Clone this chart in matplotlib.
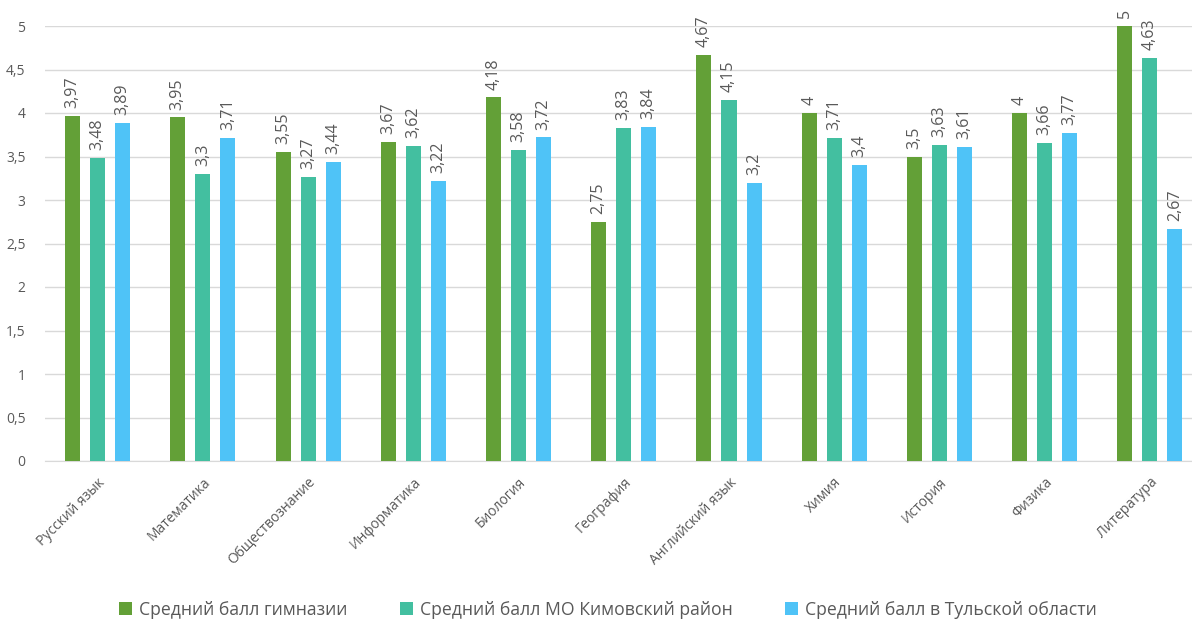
import numpy as np
import matplotlib
matplotlib.use('Agg')
import matplotlib.pyplot as plt

plt.rcParams['font.family'] = ['Open Sans', 'DejaVu Sans']

subjects = ['Русский язык', 'Математика', 'Обществознание', 'Информатика', 'Биология',
            'География', 'Английский язык', 'Химия', 'История', 'Физика', 'Литература']
gymnasium = [3.97, 3.95, 3.55, 3.67, 4.18, 2.75, 4.67, 4.00, 3.50, 4.00, 5.00]
kimovsk = [3.48, 3.30, 3.27, 3.62, 3.58, 3.83, 4.15, 3.71, 3.63, 3.66, 4.63]
tula = [3.89, 3.71, 3.44, 3.22, 3.72, 3.84, 3.20, 3.40, 3.61, 3.77, 2.67]
series_names = ['Средний балл гимназии', 'Средний балл МО Кимовский район',
                'Средний балл в Тульской области']
colors = ['#63a037', '#43bfa0', '#4fc3f7']

def fmt(v):
    s = ('%.2f' % v).rstrip('0').rstrip('.')
    return s.replace('.', ',')

fig = plt.figure(figsize=(11.92, 6.21), dpi=100)
ax = fig.add_axes([45 / 1192, 1 - 461 / 621, 1 - 45 / 1192, (461 - 26) / 621])

x = np.arange(len(subjects))
offsets = [-0.238, 0, 0.238]
width = 0.143
for vals, off, col, name in zip([gymnasium, kimovsk, tula], offsets, colors, series_names):
    bars = ax.bar(x + off, vals, width, color=col, label=name, zorder=3)
    for b, v in zip(bars, vals):
        ax.text(b.get_x() + b.get_width() / 2, v + 0.09, fmt(v), rotation=90,
                ha='center', va='bottom', fontsize=11.5, color='#595959')

ax.set_ylim(0, 5)
ax.set_xlim(-0.5, 10.4)
yt = np.arange(0, 5.01, 0.5)
ax.set_yticks(yt)
ax.set_yticklabels([fmt(v) for v in yt], fontsize=10, color='#595959')
ax.set_xticks(x)
ax.set_xticklabels(subjects, rotation=45, ha='right', rotation_mode='anchor',
                   fontsize=10, color='#595959')
ax.tick_params(axis='both', length=0)
ax.tick_params(axis='y', pad=14)
ax.tick_params(axis='x', pad=10)
ax.grid(axis='y', color='#d9d9d9', linewidth=1, zorder=0)
for s in ['top', 'right', 'left']:
    ax.spines[s].set_visible(False)
ax.spines['bottom'].set_color('#d9d9d9')

fig.legend(loc='lower center', bbox_to_anchor=(0.51, -0.022), ncol=3, frameon=False,
           fontsize=12.7, handlelength=0.7, handleheight=0.7, handletextpad=0.4,
           columnspacing=3.0, labelcolor='#595959')

fig.savefig('out.png', dpi=100)
